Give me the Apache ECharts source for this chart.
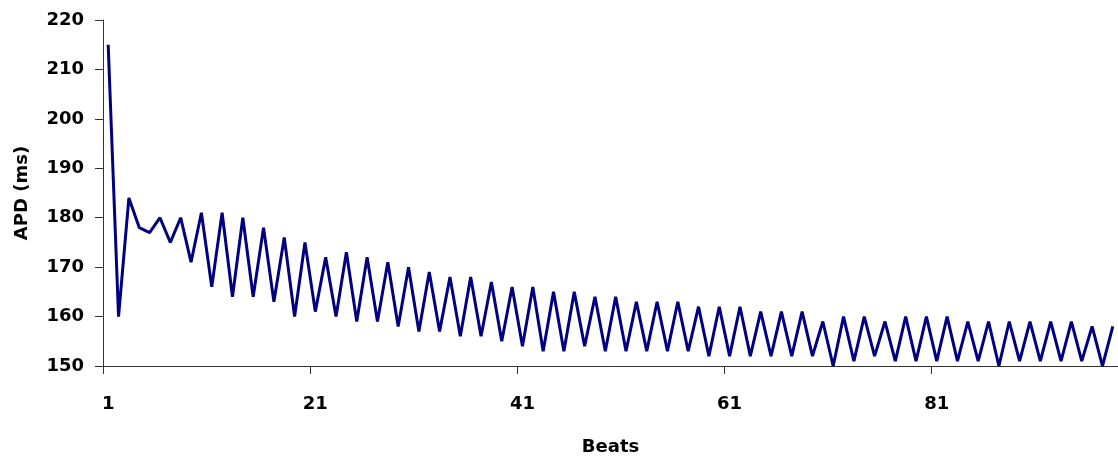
<!DOCTYPE html>
<html>
<head>
<meta charset="utf-8">
<script src="https://cdn.jsdelivr.net/npm/echarts@6/dist/echarts.min.js"></script>
<style>
html,body{margin:0;padding:0;background:#fff;}
#chart{width:1118px;height:461px;}
</style>
</head>
<body>
<div id="chart"></div>
<script>
// APD per beat (ms)
const apdValues = [
  215,160,184,178,177,180,175,180,171,181,
  166,181,164,180,164,178,163,176,160,175,
  161,172,160,173,159,172,159,171,158,170,
  157,169,157,168,156,168,156,167,155,166,
  154,166,153,165,153,165,154,164,153,164,
  153,163,153,163,153,163,153,162,152,162,
  152,162,152,161,152,161,152,161,152,159,
  150,160,151,160,152,159,151,160,151,160,
  151,160,151,159,151,159,150,159,151,159,
  151,159,151,159,151,158,150,158
];
const beats = apdValues.map((v, i) => String(i + 1));
const yTicks = { min: 150, max: 220, interval: 10 };
const xLabelEvery = 20;

const FONT = 'DejaVu Sans';
const chart = echarts.init(document.getElementById('chart'));
chart.setOption({
  animation: false,
  backgroundColor: '#ffffff',
  grid: { left: 103, right: 0, top: 20, bottom: 93, containLabel: false },
  xAxis: {
    type: 'category',
    data: beats,
    boundaryGap: true,
    name: 'Beats',
    nameLocation: 'middle',
    nameGap: 72,
    nameTextStyle: { fontFamily: FONT, fontWeight: 'bold', fontSize: 18, color: '#000' },
    axisLine: { lineStyle: { color: '#333', width: 1 } },
    axisTick: { show: true, length: 8, interval: (i) => i % xLabelEvery === 0, lineStyle: { color: '#333' } },
    axisLabel: { interval: (i) => i % xLabelEvery === 0, margin: 29, fontFamily: FONT, fontWeight: 'bold', fontSize: 18, color: '#000' },
    splitLine: { show: false }
  },
  yAxis: {
    type: 'value',
    min: yTicks.min,
    max: yTicks.max,
    interval: yTicks.interval,
    name: 'APD (ms)',
    nameLocation: 'middle',
    nameGap: 72,
    nameRotate: 90,
    nameTextStyle: { fontFamily: FONT, fontWeight: 'bold', fontSize: 18, color: '#000' },
    axisLine: { show: true, lineStyle: { color: '#333', width: 1 } },
    axisTick: { show: true, length: 8, lineStyle: { color: '#333' } },
    axisLabel: { margin: 19, fontFamily: FONT, fontWeight: 'bold', fontSize: 18, color: '#000' },
    splitLine: { show: false }
  },
  series: [{
    type: 'line',
    data: apdValues,
    symbol: 'none',
    lineStyle: { color: '#000080', width: 3 },
    itemStyle: { color: '#000080' }
  }]
});
</script>
</body>
</html>
